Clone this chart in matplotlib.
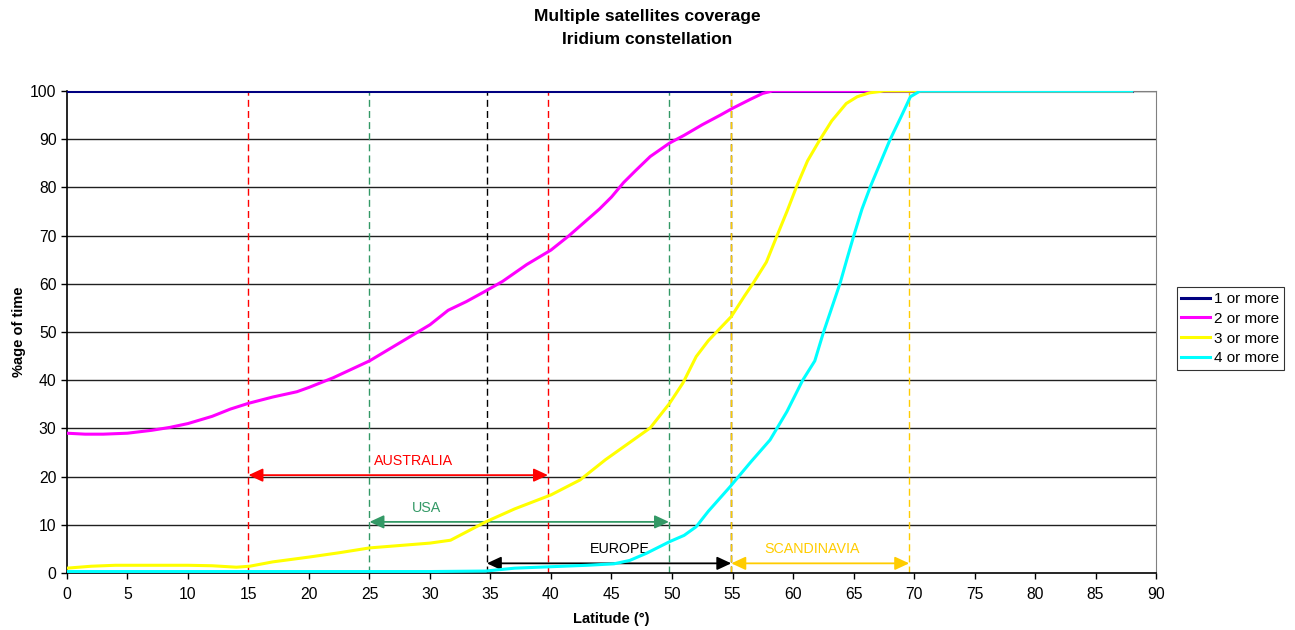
import matplotlib
matplotlib.use("Agg")
import matplotlib.pyplot as plt

plt.rcParams['font.family'] = ['Liberation Sans', 'DejaVu Sans']

# data
lat_1 = [0, 88]
cov_1 = [100, 100]

lat_2 = [0, 1.5, 3, 5, 7, 8.5, 10, 12, 13.5, 15, 17, 19, 20, 22, 25, 28, 30, 31.5, 33, 34.6, 36,
         38, 40, 41.5, 43, 44, 45, 46, 47, 48.2, 49.8, 51, 52.5, 54, 55, 56.5, 57.5, 58.3, 60, 88]
cov_2 = [29, 28.8, 28.8, 29, 29.6, 30.2, 31, 32.5, 34, 35.2, 36.5, 37.6, 38.5, 40.5, 44, 48.5, 51.5, 54.5, 56.3, 58.5, 60.5,
         64, 67, 70, 73.3, 75.5, 78, 81, 83.5, 86.4, 89.2, 90.8, 93, 95, 96.4, 98.3, 99.5, 100, 100, 100]

lat_3 = [0, 2, 4, 6, 10, 12, 14, 15.1, 17, 20, 22.5, 25, 28, 30, 31.7, 33, 34.6, 37, 40, 42.4, 44.5,
         46.8, 48.2, 49.8, 50.9, 52, 53, 54.9, 56, 56.7, 57.8, 58.65, 59.5, 60.3, 61.2, 62.2, 63.2,
         64.4, 65.3, 66.3, 67.5, 88]
cov_3 = [1, 1.4, 1.6, 1.6, 1.6, 1.5, 1.2, 1.4, 2.3, 3.3, 4.2, 5.2, 5.8, 6.2, 6.8, 8.5, 10.6, 13.3, 16.2, 19.3, 23.5,
         27.6, 30.1, 35.2, 39.4, 44.9, 48.2, 53.2, 57.5, 60.1, 64.5, 69.8, 75, 80.2, 85.5, 89.8, 93.8,
         97.4, 98.8, 99.6, 100, 100]

lat_4 = [0, 10, 20, 30, 34.6, 37, 40, 43, 45.2, 46.5, 47.9, 49.8, 51, 52, 53, 54.8, 56.5, 58.1, 59.5,
         60.8, 61.8, 62.5, 63.2, 63.9, 64.5, 65, 65.7, 66.4, 67.2, 68, 68.9, 69.7, 70.5, 88]
cov_4 = [0.3, 0.3, 0.3, 0.3, 0.4, 1, 1.3, 1.6, 1.9, 2.6, 4.1, 6.5, 7.8, 9.6, 12.8, 17.9, 23, 27.6, 33.5,
         40, 44, 49.8, 55, 60.2, 65.5, 69.8, 75.5, 80.2, 85, 89.8, 94.5, 98.8, 100, 100]

names = ['1 or more', '2 or more', '3 or more', '4 or more']
colors = ['#000080', '#ff00ff', '#ffff00', '#00ffff']

# regions: (name, start, end, arrow y, text x, text y, colour)
regions = [
    ('AUSTRALIA', 15, 39.75, 20.3, 28.6, 23.3, '#ff0000'),
    ('USA', 25, 49.75, 10.6, 29.7, 13.5, '#339966'),
    ('EUROPE', 34.7, 54.9, 2.0, 45.7, 4.9, '#000000'),
    ('SCANDINAVIA', 54.9, 69.6, 2.0, 61.6, 4.9, '#ffcc00'),
]

fig = plt.figure(figsize=(12.95, 6.3), dpi=100)
ax = fig.add_axes([0.0517, 0.0905, 0.841, 0.7651])

for y in range(10, 101, 10):
    ax.axhline(y, color='#202020', lw=1.0, zorder=1)

for name, x0, x1, ya, tx, ty, c in regions:
    ax.axvline(x0, color=c, lw=1.0, ls=(0, (5, 3)), zorder=2)
    ax.axvline(x1, color=c, lw=1.0, ls=(0, (5, 3)), zorder=2)
    ax.annotate('', xy=(x0, ya), xytext=(x1, ya),
                arrowprops=dict(arrowstyle='<|-|>,head_length=0.86,head_width=0.4', color=c,
                                lw=1.3, mutation_scale=10, shrinkA=0, shrinkB=0), zorder=3)
    ax.text(tx, ty, name, color=c, fontsize=10.3, ha='center', va='center', zorder=4)

series = [(lat_1, cov_1), (lat_2, cov_2), (lat_3, cov_3), (lat_4, cov_4)]
for (xs, ys), n, c in zip(series, names, colors):
    ax.plot(xs, ys, color=c, lw=2.2, label=n, zorder=5, solid_joinstyle='round')

ax.set_xlim(0, 90)
ax.set_ylim(0, 100)
ax.set_xticks(range(0, 91, 5))
ax.set_yticks(range(0, 101, 10))
ax.tick_params(labelsize=11.3, length=4, width=1, direction='out')
ax.tick_params(axis='x', pad=6)
for s in ['top', 'right']:
    ax.spines[s].set_color('#808080')
for s in ['left', 'bottom']:
    ax.spines[s].set_color('#000000')
    ax.spines[s].set_linewidth(1.2)

ax.set_xlabel('Latitude (°)', fontsize=10.5, fontweight='bold', labelpad=7)
ax.set_ylabel('%age of time', fontsize=10.5, fontweight='bold', labelpad=3)
fig.suptitle('Multiple satellites coverage\nIridium constellation', fontsize=12.5,
             fontweight='bold', y=0.985, linespacing=1.6)

leg = ax.legend(loc='center left', bbox_to_anchor=(1.019, 0.507), fontsize=11, frameon=True,
                fancybox=False, edgecolor='#000000', handlelength=1.85, handletextpad=0.3,
                borderpad=0.3, labelspacing=0.38, borderaxespad=0)
leg.get_frame().set_linewidth(0.8)

fig.savefig('out.png', dpi=100)
